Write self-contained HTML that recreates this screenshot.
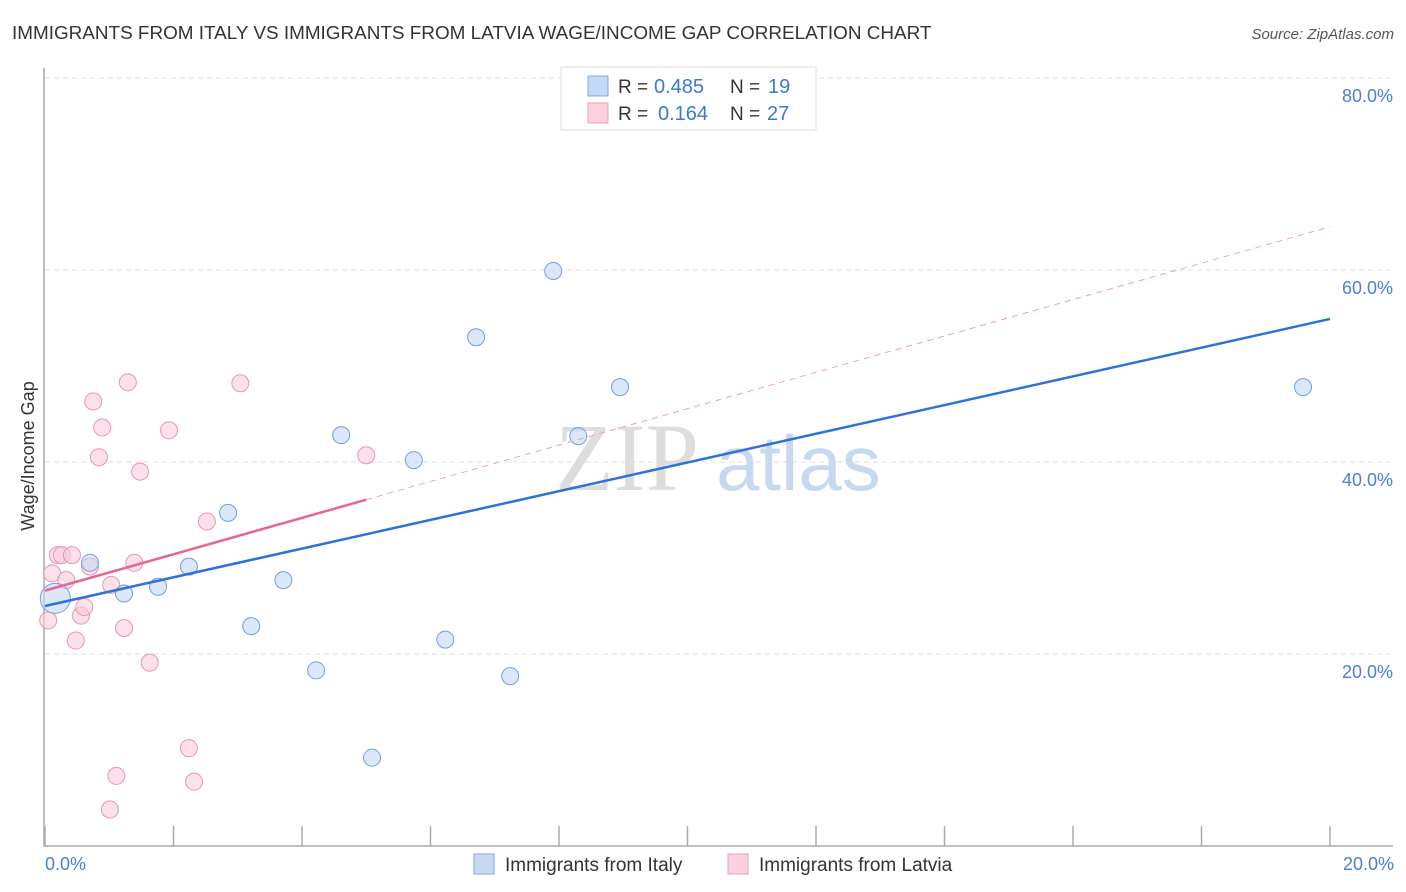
<!DOCTYPE html>
<html><head><meta charset="utf-8"><style>
body{margin:0;background:#fff;font-family:"Liberation Sans",sans-serif;}
svg{display:block}
</style></head><body>
<svg width="1406" height="892">
<text x="12" y="39" font-size="18.9" fill="#333">IMMIGRANTS FROM ITALY VS IMMIGRANTS FROM LATVIA WAGE/INCOME GAP CORRELATION CHART</text>
<text x="1394" y="39" font-size="15" fill="#555" font-style="italic" text-anchor="end">Source: ZipAtlas.com</text>
<text x="555" y="490" font-size="96" fill="#ddd" font-family="Liberation Serif,serif">ZIP</text>
<text x="716" y="490" font-size="78" fill="#c8d8f0">atlas</text>
<g id="grid"></g>
<g id="axes"></g>
<g id="marks"></g>
<text transform="translate(34,456) rotate(-90)" font-size="18" fill="#333" text-anchor="middle">Wage/Income Gap</text>
<text x="45" y="870" font-size="18" fill="#4a7fd0">0.0%</text>
<text x="1394" y="870" font-size="18" fill="#4a7fd0" text-anchor="end">20.0%</text>
<g>
<rect x="561" y="67" width="255" height="63" fill="#fff" stroke="#ddd"/>
<rect x="588" y="76" width="20" height="20" fill="#c5d9f5" stroke="#7fa8e0"/>
<rect x="588" y="103" width="20" height="20" fill="#fbd0dc" stroke="#eda0b6"/>
<text x="618" y="93" font-size="19" fill="#333">R =</text>
<text x="654" y="93" font-size="20" fill="#3a78d8">0.485</text>
<text x="730" y="93" font-size="19" fill="#333">N =</text>
<text x="768" y="93" font-size="20" fill="#3a78d8">19</text>
<text x="618" y="120" font-size="19" fill="#333">R =</text>
<text x="658" y="120" font-size="20" fill="#3a78d8">0.164</text>
<text x="730" y="120" font-size="19" fill="#333">N =</text>
<text x="767" y="120" font-size="20" fill="#3a78d8">27</text>
</g>
<g>
<rect x="474" y="854" width="20" height="20" fill="#c5d9f5" stroke="#7fa8e0"/>
<text x="505" y="871" font-size="19" fill="#333">Immigrants from Italy</text>
<rect x="728" y="854" width="20" height="20" fill="#fbd0dc" stroke="#eda0b6"/>
<text x="759" y="871" font-size="19" fill="#333">Immigrants from Latvia</text>
</g>
</svg>
<script>
const italyX=[0.16,0.70,1.23,1.76,2.24,2.85,3.21,3.71,4.22,4.61,5.09,5.74,6.23,6.71,7.24,7.91,8.30,8.95,19.58];
const italyY=[25.8,29.5,26.3,27.0,29.1,34.7,22.9,27.7,18.3,42.8,9.2,40.2,21.5,53.0,17.7,59.9,42.7,47.8,47.8];
const latviaX=[0.05,0.11,0.20,0.26,0.33,0.42,0.48,0.56,0.61,0.70,0.75,0.84,0.89,1.03,1.11,1.01,1.23,1.29,1.39,1.48,1.63,1.93,2.24,2.32,2.52,3.04,5.00];
const latviaY=[23.5,28.4,30.3,30.3,27.7,30.3,21.4,24.0,24.9,29.1,46.3,40.5,43.6,27.2,7.3,3.8,22.7,48.3,29.5,39.0,19.1,43.3,10.2,6.7,33.8,48.2,40.7];
const italyTrend=[25.0,54.9];
const latviaTrend=[26.6,64.5];
const latviaSolidEnd=5.0;
const yTicks=[20,40,60,80];
const yTickLabels=["20.0%","40.0%","60.0%","80.0%"];
const xTicks=[0,2,4,6,8,10,12,14,16,18,20];
const NS="http://www.w3.org/2000/svg";
const sx=v=>45+v*64.25, sy=v=>846-v*9.6;
function mk(p,t,a){const e=document.createElementNS(NS,t);for(const k in a)e.setAttribute(k,a[k]);p.appendChild(e);return e;}
const grid=document.getElementById('grid'),axes=document.getElementById('axes'),marks=document.getElementById('marks');
yTicks.forEach((v,i)=>{
 const l=mk(grid,'line',{x1:45,x2:1393,y1:sy(v),y2:sy(v),stroke:'#ddd','stroke-dasharray':'5,4'});
 
 
 const t=mk(grid,'text',{x:1393,y:sy(v)+24,'font-size':18,fill:'#4a7fd0','text-anchor':'end'});
 t.textContent=yTickLabels[i];
 
 
});
const ax=mk(axes,'path',{d:'M44,68V846H1393',fill:'none',stroke:'#aaa','stroke-width':1.5});


xTicks.forEach(v=>{
 const t=mk(axes,'line',{x1:sx(v),x2:sx(v),y1:826,y2:846,stroke:'#aaa','stroke-width':1.5});
 
 
});
function dots(X,Y,fill,stroke,name){
 X.forEach((x,i)=>{
  const r=(name==='italy-point'&&i===0)?15:8.5;
  const c=mk(marks,'circle',{cx:sx(x),cy:sy(Y[i]),r:r,fill:fill,stroke:stroke,'stroke-width':1,'fill-opacity':0.6});
  
  
 });
}
dots(latviaX,latviaY,'#fbcbd8','#e897af','latvia-point');
dots(italyX,italyY,'#c5d9f5','#6f9fe0','italy-point');
const ld=mk(marks,'line',{x1:sx(latviaSolidEnd),y1:sy(latviaTrend[0]+(latviaTrend[1]-latviaTrend[0])*latviaSolidEnd/20),x2:sx(20),y2:sy(latviaTrend[1]),stroke:'#eea0b6','stroke-dasharray':'6,5','stroke-width':1});


const ls=mk(marks,'line',{x1:sx(0),y1:sy(latviaTrend[0]),x2:sx(latviaSolidEnd),y2:sy(latviaTrend[0]+(latviaTrend[1]-latviaTrend[0])*latviaSolidEnd/20),stroke:'#e8658e','stroke-width':2.5});


const it=mk(marks,'line',{x1:sx(0),y1:sy(italyTrend[0]),x2:sx(20),y2:sy(italyTrend[1]),stroke:'#2d72d9','stroke-width':2.5});


</script>
</body></html>
